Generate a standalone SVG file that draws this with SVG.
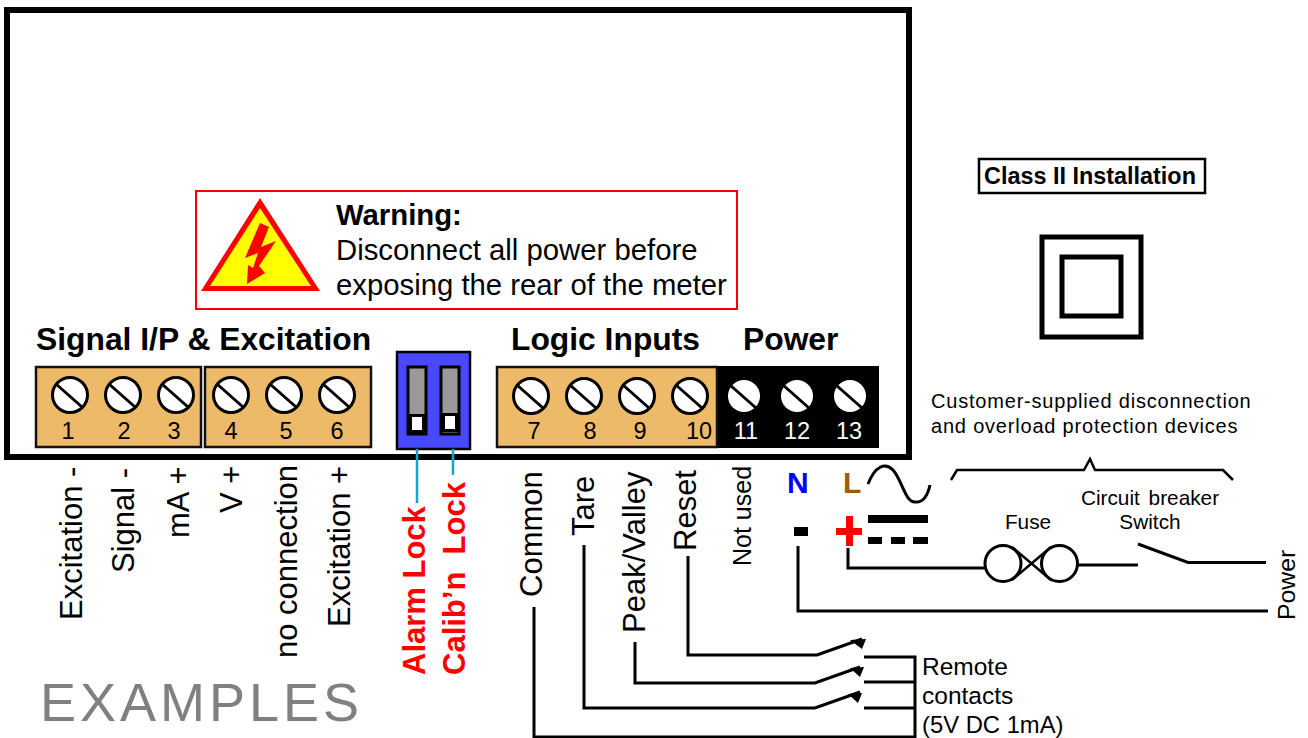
<svg xmlns="http://www.w3.org/2000/svg" width="1308" height="738" viewBox="0 0 1308 738">
<style>
text{font-family:"Liberation Sans",Arial,sans-serif;fill:#000}
.b{font-weight:bold}
.h{font-size:31.800px;font-weight:bold}
.n{font-size:23.500px;text-anchor:middle}
.w{fill:#fff}
.v{font-size:31px}
.l{fill:none;stroke:#000;stroke-width:3}
.tb{stroke:#111;stroke-width:2.500}
.sc{fill:#fff;stroke:#000;stroke-width:3}
.red{fill:#f00}
.m{font-size:29.300px}
</style>
<defs>
<g id="screw"><circle r="17.500" class="sc"/><line x1="-14" y1="-11" x2="12" y2="12" stroke="#000" stroke-width="3"/></g>
<g id="screww"><circle r="16" fill="#fff"/><line x1="-14" y1="-11" x2="12" y2="12" stroke="#000" stroke-width="3"/></g>
</defs>
<rect id="case" x="7" y="10" width="902" height="447" fill="#fff" stroke="#000" stroke-width="6"/>
<g id="warning">
<rect x="196" y="191" width="541" height="118" fill="#fff" stroke="#f00" stroke-width="2"/>
<path d="M260 198L320 291H201Z" fill="#f00"/>
<path d="M260 208L311 286H210Z" fill="#ff0"/>
<path d="M260 223L269 227L261 247L276 241L259 266L265 273L247 284L248 265L253 268L258 253L245 258Z" fill="#f00"/>
<text x="336" y="225" class="m b">Warning:</text>
<text x="336" y="260" class="m">Disconnect all power before</text>
<text x="336" y="295" class="m">exposing the rear of the meter</text>
</g>
<g id="signal-block">
<text x="36" y="350" class="h">Signal I/P &amp; Excitation</text>
<rect x="36" y="367" width="165" height="80" fill="#ecba68" class="tb"/>
<rect x="205" y="367" width="166" height="80" fill="#ecba68" class="tb"/>
<use href="#screw" x="70" y="395"/><use href="#screw" x="123" y="395"/><use href="#screw" x="176" y="395"/>
<use href="#screw" x="231" y="395"/><use href="#screw" x="284" y="395"/><use href="#screw" x="337" y="395"/>
<text x="68" y="439" class="n">1</text><text x="124" y="439" class="n">2</text><text x="174" y="439" class="n">3</text>
<text x="231" y="439" class="n">4</text><text x="286" y="439" class="n">5</text><text x="337" y="439" class="n">6</text>
</g>
<g id="dip-switch">
<rect x="397" y="352" width="73" height="97" fill="#4848ff" stroke="#000" stroke-width="2.500"/>
<rect x="408" y="367" width="18" height="67" fill="#999" stroke="#000" stroke-width="3"/>
<rect x="441" y="367" width="18" height="67" fill="#999" stroke="#000" stroke-width="3"/>
<rect x="409" y="414" width="16" height="19" fill="#000"/><rect x="412" y="417" width="10" height="13" fill="#fff"/>
<rect x="442" y="413" width="16" height="19" fill="#000"/><rect x="445" y="416" width="10" height="13" fill="#fff"/>
</g>
<g id="logic-block">
<text x="511" y="350" class="h">Logic Inputs</text>
<rect x="497" y="367" width="220" height="80" fill="#ecba68" class="tb"/>
<use href="#screw" x="531" y="396"/><use href="#screw" x="584" y="396"/><use href="#screw" x="637" y="396"/><use href="#screw" x="690" y="396"/>
<text x="534" y="439" class="n">7</text><text x="590" y="439" class="n">8</text><text x="640" y="439" class="n">9</text><text x="699" y="439" class="n">10</text>
</g>
<g id="power-block">
<text x="743" y="350" class="h">Power</text>
<rect x="718" y="366" width="161" height="82" fill="#000"/>
<use href="#screww" x="744" y="396"/><use href="#screww" x="797" y="396"/><use href="#screww" x="850" y="396"/>
<text x="746" y="439" class="n w">11</text><text x="797" y="439" class="n w">12</text><text x="849" y="439" class="n w">13</text>
</g>
<g id="connectors" class="l">
<path d="M417 449V503M453 449V475" stroke="#10a8c8" stroke-width="2.500" fill="none"/>
<path d="M534 607V737H915V657H864M915 682H864M915 708H864"/>
<path d="M584 545V708H815L860 692"/>
<path d="M635 642V683H815L860 667"/>
<path d="M688 556V655H817L862 639"/>
<path d="M798 546V611H1268"/>
<path d="M848 548V568H985M1078 565H1138M1138 544L1188 562.500H1266"/>
<path d="M951 480L957 470H1084L1090 459L1095 470H1223L1233 480" stroke-width="2.500"/>
<path d="M868 484C875 466 885 462 893 470C902 480 905 502 915 502C924 503 928 494 930 485"/>
<path d="M1012 547L1051 580M1012 580L1051 547" stroke-width="2.500"/>
<circle cx="1003" cy="563.500" r="18"/><circle cx="1059.500" cy="563.500" r="18"/>
<g fill="#000" stroke="none"><path d="M850 640L866 639L862 649Z"/><path d="M850 668L864 667L860 677Z"/><path d="M848 694L862 693L858 703Z"/></g>
</g>
<g id="labels">
<text transform="translate(82,620) rotate(-90)" class="v">Excitation -</text>
<text transform="translate(134,573) rotate(-90)" class="v">Signal -</text>
<text transform="translate(189,538) rotate(-90)" class="v">mA +</text>
<text transform="translate(242,513) rotate(-90)" class="v">V +</text>
<text transform="translate(297,658) rotate(-90)" class="v">no connection</text>
<text transform="translate(350,627) rotate(-90)" class="v">Excitation +</text>
<text transform="translate(425,675) rotate(-90)" class="v b red" style="fill:#f00">Alarm Lock</text>
<text transform="translate(465,675) rotate(-90)" class="v b red" style="fill:#f00">Calib’n&#160; Lock</text>
<text transform="translate(542,597) rotate(-90)" class="v">Common</text>
<text transform="translate(594,536) rotate(-90)" class="v">Tare</text>
<text transform="translate(645,633) rotate(-90)" class="v">Peak/Valley</text>
<text transform="translate(696,551) rotate(-90)" class="v">Reset</text>
<text transform="translate(751,566) rotate(-90)" font-size="25">Not used</text>
<text transform="translate(1295,620) rotate(-90)" font-size="24.800">Power</text>
<text x="787" y="493" font-size="30" class="b" style="fill:#00f">N</text>
<text x="843" y="493" font-size="30" class="b" style="fill:#96600f">L</text>
<path d="M794 527H808V536H794Z" fill="#000"/>
<path d="M846 516H853V528H862V535H853V546H846V535H836V528H846Z" fill="#f00"/>
<rect x="868" y="515" width="60" height="8"/>
<rect x="868" y="537" width="14" height="7"/><rect x="891" y="537" width="14" height="7"/><rect x="913" y="537" width="15" height="7"/>
<text x="1028" y="529" font-size="20.800" text-anchor="middle">Fuse</text>
<text x="1150" y="505" font-size="20.800" text-anchor="middle" word-spacing="3">Circuit breaker</text>
<text x="1150" y="529" font-size="20.800" text-anchor="middle">Switch</text>
<text x="931" y="408" font-size="20" letter-spacing=".8">Customer-supplied disconnection</text>
<text x="931" y="433" font-size="20" letter-spacing=".8">and overload protection devices</text>
<text x="922" y="675" font-size="24.500">Remote</text>
<text x="922" y="704" font-size="24.500">contacts</text>
<text x="922" y="733" font-size="23.800">(5V DC 1mA)</text>
<text x="40" y="721" font-size="54" letter-spacing="4" style="fill:#808080">EXAMPLES</text>
</g>
<g id="class-ii">
<rect x="979" y="159" width="226" height="34" fill="#fff" stroke="#000" stroke-width="2.500"/>
<text x="1090" y="184" font-size="23.400" class="b" text-anchor="middle">Class II Installation</text>
<rect x="1042" y="237" width="99" height="100" fill="none" stroke="#000" stroke-width="5"/>
<rect x="1062" y="257" width="59" height="59" fill="none" stroke="#000" stroke-width="5"/>
</g>
</svg>
